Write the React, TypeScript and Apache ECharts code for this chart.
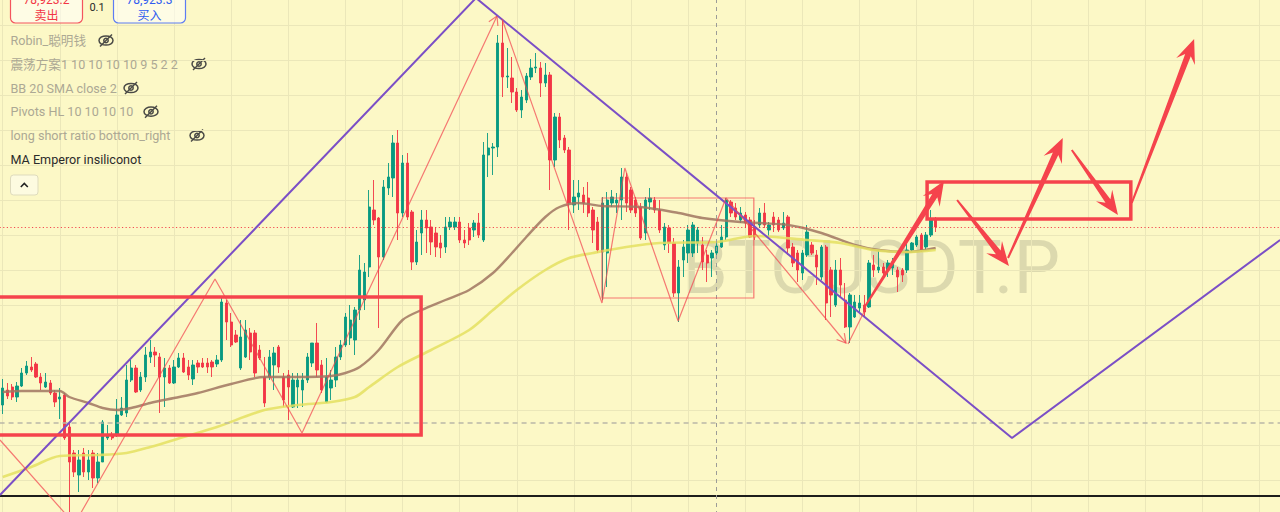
import React, { useEffect, useRef } from "react";
import * as echarts from "echarts";

// ---------- data (prices) ----------
// [open, close, low, high] for each candle, index = bar number
const candleRows: number[][] = [
  [75000, 75340, 74820, 75520], [75300, 75180, 75120, 75440], [75360, 75160, 75100, 75420], [75160, 75380, 75060, 75460],
  [75380, 75640, 75360, 75740], [75640, 75780, 75600, 75880], [75760, 75700, 75660, 75960], [75820, 75560, 75540, 75860],
  [75560, 75440, 75300, 75640], [75360, 75460, 75340, 75640], [75440, 75240, 75200, 75500], [75240, 75060, 74960, 75300],
  [75120, 75160, 74720, 75340], [75200, 74340, 74300, 75240], [74560, 73860, 72840, 74640], [74040, 73660, 73560, 74100],
  [73600, 73900, 73260, 74100], [74040, 73660, 73560, 74140], [73660, 73900, 73500, 74100], [74040, 73540, 73340, 74100],
  [73540, 73860, 73440, 74040], [73860, 74660, 73860, 74700], [74340, 74380, 74300, 74600], [74400, 74340, 74300, 74460],
  [74400, 74800, 74360, 75120], [74800, 74940, 74780, 75160], [74840, 75500, 74760, 75800], [75500, 75740, 75460, 75900],
  [75740, 75260, 75240, 75800], [75300, 75560, 75260, 75660], [75560, 76000, 75460, 76160], [75960, 76060, 75840, 76300],
  [76060, 76000, 75760, 76160], [75960, 75560, 74840, 76040], [75560, 75740, 74960, 75940], [75740, 75440, 75420, 75800],
  [75440, 75760, 75420, 75900], [75760, 75940, 75740, 76040], [75940, 75660, 75640, 76040], [75760, 75600, 75500, 75900],
  [75520, 75800, 75400, 75900], [75840, 75760, 75640, 75900], [75840, 75760, 75740, 75940], [75840, 75760, 75640, 75940],
  [75860, 75760, 75560, 75900], [75820, 75900, 75760, 76000], [75900, 77060, 75860, 77140], [77040, 76660, 76300, 77100],
  [76660, 76200, 76160, 76840], [76400, 76260, 76240, 76500], [75740, 76360, 75700, 76700], [75960, 76500, 75940, 76700],
  [76440, 76060, 75900, 76540], [76440, 75640, 75560, 76500], [76100, 75940, 75900, 76200], [75560, 75040, 74960, 75960],
  [75560, 75960, 75500, 76100], [75800, 76040, 75300, 76160], [76160, 75760, 75640, 76200], [75560, 75100, 74960, 75640],
  [75600, 75360, 74700, 75700], [74960, 75500, 74940, 75640], [75360, 75500, 74940, 75640], [75300, 75500, 74960, 75640],
  [75500, 75960, 75440, 76040], [75840, 76240, 75760, 76240], [76240, 75700, 75560, 76640], [75800, 75300, 75240, 75900],
  [75060, 75560, 75040, 75940], [75340, 75500, 75100, 75700], [75500, 75960, 75360, 76160], [75960, 76200, 75900, 76300],
  [76200, 76760, 76160, 76840], [76340, 76700, 76200, 77000], [76300, 76900, 76000, 76960], [76900, 77700, 76700, 78000],
  [77100, 77660, 76900, 77840], [77760, 78960, 77560, 79300], [78900, 78700, 78600, 79500], [78740, 77960, 76540, 78760],
  [77960, 79360, 77900, 79500], [79340, 79560, 79200, 79840], [79540, 80240, 79160, 80400], [80240, 78840, 78300, 80500],
  [78840, 79840, 78760, 80000], [79840, 78760, 78700, 80040], [78860, 77860, 77700, 78900], [77860, 78260, 77800, 78500],
  [78440, 78700, 78000, 78900], [78700, 78540, 78040, 78900], [78560, 78260, 78000, 78700], [78440, 78160, 77960, 78560],
  [78240, 78140, 77940, 78400], [78160, 78560, 78040, 78760], [78560, 78660, 78500, 78760], [78560, 78660, 78500, 78760],
  [78660, 78300, 78240, 78760], [78300, 78240, 78140, 78500], [78540, 78300, 78200, 78640], [78500, 78640, 78360, 78700],
  [78640, 78400, 78340, 78840], [78300, 80000, 78260, 80260], [80000, 80140, 79560, 80440], [80140, 80160, 79600, 80240],
  [80160, 82240, 79960, 82400], [82240, 81560, 81160, 82700], [81560, 81580, 81340, 82140], [81540, 81260, 81040, 81960],
  [81260, 80900, 80860, 81340], [80900, 81160, 80740, 81300], [81100, 81580, 81040, 81640], [81560, 81740, 81500, 81920],
  [81740, 81760, 81640, 82040], [81740, 81440, 81160, 81860], [81440, 81600, 81360, 81840], [81600, 79900, 79300, 81660],
  [79900, 80760, 79760, 80840], [80760, 80300, 80140, 80840], [80340, 80100, 80040, 80400], [80100, 79040, 78500, 80160],
  [79000, 79160, 78840, 79500], [79160, 79240, 78900, 79500], [79200, 79040, 78840, 79360], [79140, 78840, 78760, 79460],
  [78900, 78500, 78240, 78960], [78660, 78100, 78040, 78760], [78060, 79040, 77100, 79160], [78040, 79100, 77360, 79260],
  [79040, 79160, 78960, 79300], [79040, 79100, 78840, 79240], [79100, 79560, 78700, 79740], [79560, 79040, 78860, 79640],
  [79300, 78900, 78840, 79360], [79100, 78840, 78760, 79160], [78960, 78340, 78300, 79040], [78440, 79100, 78300, 79160],
  [79060, 79140, 78900, 79340], [79100, 78900, 78840, 79160], [78900, 78500, 78440, 79100], [78200, 78560, 78100, 78640],
  [78540, 78240, 78040, 78600], [78240, 77240, 77160, 78340], [77240, 77760, 76660, 77900], [77900, 78160, 77560, 78300],
  [78040, 78500, 77840, 78600], [78040, 78600, 77960, 78660], [78240, 78500, 78040, 78560], [78200, 77860, 77700, 78360],
  [78000, 77840, 77460, 78100], [77940, 78040, 77560, 78100], [78040, 78180, 77960, 78260], [78160, 78360, 78140, 78600],
  [78360, 79100, 78300, 79140], [79060, 78840, 78760, 79100], [78940, 78760, 78700, 79040], [78700, 78840, 78640, 78960],
  [78800, 78640, 78540, 78860], [78700, 78360, 78340, 78760], [78560, 78360, 78300, 78700], [78600, 78840, 78540, 78940],
  [78840, 78600, 78540, 79040], [78500, 78600, 78360, 78660], [78760, 78600, 78460, 78860], [78700, 78500, 78460, 78760],
  [78540, 78640, 78500, 78860], [78760, 78140, 78000, 78800], [78160, 77840, 77760, 78240], [78040, 77700, 77460, 78100],
  [77640, 78040, 77500, 78100], [78000, 78460, 77960, 78600], [78200, 78040, 78000, 78260], [78000, 77760, 77400, 78100],
  [77560, 78160, 77500, 78200], [78160, 77040, 76700, 78200], [77700, 77200, 76760, 77760], [77000, 77700, 76960, 77900],
  [77700, 77400, 77160, 77940], [77100, 76560, 76540, 77440], [76560, 77200, 76240, 77240], [76760, 77060, 76740, 77200],
  [76940, 77040, 76860, 77200], [77000, 76860, 76760, 77200], [76960, 77840, 76940, 77900], [77800, 77700, 77560, 78000],
  [77700, 77760, 77640, 78100], [77760, 77640, 77560, 77840], [77700, 77840, 77560, 77900], [77740, 77860, 77600, 77940],
  [77700, 77560, 77260, 77760], [77700, 77600, 77460, 77740], [77700, 78100, 77640, 78240], [78100, 78240, 78060, 78260],
  [78200, 78360, 78160, 78400], [78400, 78100, 78060, 78440], [78160, 78400, 78100, 78460], [78400, 78700, 78360, 78900],
  [78700, 78560, 78460, 78760],
];

// moving averages: [bar index, price]
const maBrown: number[][] = [
  [0, 75260], [4, 75280], [12, 75280], [14, 75160], [18, 75040], [21, 74940], [24, 74900], [27, 74940],
  [31, 75040], [36, 75140], [41, 75240], [48, 75420], [55, 75560], [62, 75560], [69, 75580], [72, 75640],
  [75, 75760], [79, 76100], [84, 76700], [88, 76900], [93, 77100], [98, 77300], [103, 77640], [107, 78040],
  [110, 78360], [114, 78760], [117, 78960], [121, 79040], [126, 78980], [134, 78960], [142, 78840], [147, 78740],
  [155, 78660], [165, 78600], [172, 78440], [179, 78200], [184, 78100], [190, 78060], [196, 78140],
];
const maYellow: number[][] = [
  [0, 73560], [6, 73760], [12, 73980], [20, 74000], [26, 74040], [31, 74160], [38, 74360], [45, 74560],
  [55, 74900], [62, 75000], [69, 75060], [74, 75160], [77, 75360], [83, 75760], [90, 76100], [98, 76500],
  [103, 76900], [108, 77300], [114, 77700], [119, 77940], [124, 78040], [131, 78160], [138, 78240], [150, 78260],
  [158, 78380], [169, 78300], [176, 78240], [183, 78100], [190, 78060], [196, 78100],
];

// hand drawings, in [bar index, price]
const purpleTrend: number[][] = [[-0.57, 73200], [99.43, 83140], [212.04, 74340], [268.36, 78300]];
const zigzagA: number[][] = [[-0.57, 74300], [15.08, 72620], [44.6, 77520], [62.88, 74440], [103.85, 82780]];
const zigzagB: number[][] = [[104.9, 82720], [125.9, 77040], [130.7, 79740], [141.9, 76680], [151.95, 79140], [177.16, 76240]];
const zigzagC: number[][] = [[177.58, 76220], [181.36, 76940]];
const zigzagTips: number[][] = [[62.88, 74440, 103.85, 82780], [151.95, 79140, 177.16, 76240]];
const boxesThick: number[][] = [[-3, 77160, 87.9, 74400], [194.2, 79460, 237.0, 78720]];
const boxesThin: number[][] = [[125.9, 79140, 157.8, 77140]];
const arrowsThick: number[][] = [
  [180.95, 76940, 197.75, 79480],
  [200.5, 79100, 211.4, 77780],
  [211.2, 77940, 222.7, 80340],
  [224.6, 80100, 234.3, 78800],
  [237.2, 79040, 250.3, 82320],
];
const lastPrice = 78560;
const dashedPrice = 74640;
const supportPrice = 73180;
const cursorBar = 150;

const bidText = "78,923.2";
const askText = "78,923.3";
const legendItems = [
  "Robin_聪明钱",
  "震荡方案1 10 10 10 10 9 5 2 2",
  "BB 20 SMA close 2",
  "Pivots HL 10 10 10 10",
  "long short ratio bottom_right",
];
const activeLegend = "MA Emperor insiliconot";
const symbolName = "BTCUSDT.P";

// ---------- styles ----------
const UP = "#089981";
const DOWN = "#f23645";
const DRAW_RED = "#f5434c";
const THIN_RED = "rgba(242,70,80,0.72)";
const PURPLE = "#7b4fc6";
const BG = "#fcf8c6";
const FONT = '12.6px Roboto, "Noto Sans CJK SC", sans-serif';

function thickArrow(_p: any, api: any) {
  const a = api.coord([api.value(0), api.value(1)]);
  const b = api.coord([api.value(2), api.value(3)]);
  const dx = b[0] - a[0], dy = b[1] - a[1];
  const len = Math.hypot(dx, dy) || 1;
  const ux = dx / len, uy = dy / len, nx = -uy, ny = ux;
  const head = 24, hw = 10, w0 = 1, w1 = 3;
  const jx = b[0] - ux * head * 0.72, jy = b[1] - uy * head * 0.72;
  const cx = b[0] - ux * head, cy = b[1] - uy * head;
  return {
    type: "polygon",
    shape: {
      points: [
        [a[0] + nx * w0, a[1] + ny * w0],
        [jx + nx * w1, jy + ny * w1],
        [cx + nx * hw, cy + ny * hw],
        [b[0], b[1]],
        [cx - nx * hw, cy - ny * hw],
        [jx - nx * w1, jy - ny * w1],
        [a[0] - nx * w0, a[1] - ny * w0],
      ],
    },
    style: { fill: DRAW_RED },
  };
}

function chevron(_p: any, api: any) {
  const a = api.coord([api.value(0), api.value(1)]);
  const b = api.coord([api.value(2), api.value(3)]);
  const ang = Math.atan2(b[1] - a[1], b[0] - a[0]);
  const L = 10, s = Math.PI / 6;
  return {
    type: "polyline",
    shape: {
      points: [
        [b[0] - L * Math.cos(ang - s), b[1] - L * Math.sin(ang - s)],
        [b[0], b[1]],
        [b[0] - L * Math.cos(ang + s), b[1] - L * Math.sin(ang + s)],
      ],
    },
    style: { fill: "none", stroke: THIN_RED, lineWidth: 1.2 },
  };
}

function boxRenderer(stroke: string, lw: number) {
  return (_p: any, api: any) => {
    const a = api.coord([api.value(0), api.value(1)]);
    const b = api.coord([api.value(2), api.value(3)]);
    return {
      type: "rect",
      shape: {
        x: Math.min(a[0], b[0]),
        y: Math.min(a[1], b[1]),
        width: Math.abs(b[0] - a[0]),
        height: Math.abs(b[1] - a[1]),
      },
      style: { fill: "none", stroke, lineWidth: lw },
    };
  };
}

function eyeOff(cx: number, cy: number) {
  const st = { fill: "none", stroke: "#4a4a46", lineWidth: 1.5 };
  return {
    type: "group",
    x: cx,
    y: cy,
    z: 100,
    children: [
      { type: "ellipse", shape: { cx: 0, cy: 0, rx: 7, ry: 4.6 }, style: st },
      { type: "circle", shape: { cx: 0, cy: 0, r: 2.2 }, style: st },
      { type: "line", shape: { x1: -6, y1: 6, x2: 6, y2: -6 }, style: st },
    ],
  };
}

function txt(text: string, x: number, y: number, fill: string, font: string, align = "left") {
  return {
    type: "text",
    x,
    y,
    z: 100,
    silent: true,
    style: { text, fill, font, align, textAlign: align, verticalAlign: "middle", textVerticalAlign: "middle" },
  };
}

const legendY = [40.5, 64, 88, 111.7, 135.5];
const eyeX = [106, 199, 131, 151, 197];

function buildOption(): any {
  const candleData = candleRows.map((r, i) => [i, r[0], r[1], r[2], r[3]]);
  const graphic: any[] = [
    {
      type: "text",
      x: 871,
      y: 267,
      z: -1,
      silent: true,
      style: {
        text: symbolName,
        fill: "rgba(95,95,80,0.2)",
        font: "74px Roboto, sans-serif",
        align: "center",
        textAlign: "center",
        verticalAlign: "middle",
        textVerticalAlign: "middle",
      },
    },
    {
      type: "rect",
      z: 100,
      shape: { x: 10.5, y: -20, width: 72, height: 43, r: 5 },
      style: { fill: "rgba(255,255,255,0.55)", stroke: "#f4545e", lineWidth: 1.2 },
    },
    txt(bidText, 46.5, 0, "#f23645", '12px Roboto, sans-serif', "center"),
    txt("卖出", 46.5, 14, "#f23645", '12px "Noto Sans CJK SC", sans-serif', "center"),
    txt("0.1", 97, 7, "#2a2a2a", '11px Roboto, sans-serif', "center"),
    {
      type: "rect",
      z: 100,
      shape: { x: 113.5, y: -20, width: 72, height: 43, r: 5 },
      style: { fill: "rgba(255,255,255,0.55)", stroke: "#5d7cf4", lineWidth: 1.2 },
    },
    txt(askText, 149.5, 0, "#2f5bf0", '12px Roboto, sans-serif', "center"),
    txt("买入", 149.5, 14, "#2f5bf0", '12px "Noto Sans CJK SC", sans-serif', "center"),
  ];
  legendItems.forEach((t, k) => {
    graphic.push(txt(t, 10.5, legendY[k], "#aca894", FONT));
    graphic.push(eyeOff(eyeX[k], legendY[k]));
  });
  graphic.push(txt(activeLegend, 10.5, 159.3, "#2b2b2b", FONT));
  graphic.push({
    type: "rect",
    z: 100,
    shape: { x: 10.5, y: 175, width: 27.5, height: 20, r: 3 },
    style: { fill: "rgba(255,255,255,0.45)", stroke: "#dedbbd", lineWidth: 1 },
  });
  graphic.push({
    type: "polyline",
    z: 101,
    shape: { points: [[20.8, 187], [24.3, 183.5], [27.8, 187]] },
    style: { fill: "none", stroke: "#222", lineWidth: 1.6 },
  });

  return {
    animation: false,
    backgroundColor: BG,
    grid: { left: -54.42, right: -36.46, top: -10, bottom: -3, containLabel: false, outerBoundsMode: "none" },
    xAxis: {
      type: "value",
      min: -12,
      max: 276,
      interval: 12,
      axisLine: { show: false },
      axisTick: { show: false },
      axisLabel: { show: false },
      splitLine: { show: true, lineStyle: { color: "#ebe7b9", width: 1 } },
    },
    yAxis: {
      type: "value",
      min: 72800,
      max: 83300,
      interval: 700,
      axisLine: { show: false },
      axisTick: { show: false },
      axisLabel: { show: false },
      splitLine: { show: true, lineStyle: { color: "#ebe7b9", width: 1 } },
    },
    graphic,
    series: [
      {
        type: "candlestick",
        data: candleData,
        encode: { x: 0, y: [1, 2, 3, 4] },
        barWidth: 2.8,
        itemStyle: { color: UP, color0: DOWN, borderColor: UP, borderColor0: DOWN, borderWidth: 0.9 },
        silent: true,
        z: 3,
        markLine: {
          silent: true,
          symbol: ["none", "none"],
          label: { show: false },
          animation: false,
          data: [
            { yAxis: lastPrice, lineStyle: { color: "#f23645", width: 1, type: [1.2, 2.4], opacity: 0.9 } },
            { yAxis: dashedPrice, lineStyle: { color: "#b9b7a8", width: 1.6, type: [5, 4] } },
            { yAxis: supportPrice, lineStyle: { color: "#1d1d1b", width: 2.2, type: "solid" } },
            { xAxis: cursorBar, lineStyle: { color: "#9c9c98", width: 1, type: [4, 4] } },
          ],
        },
      },
      {
        type: "line",
        data: maBrown,
        smooth: 0.3,
        showSymbol: false,
        silent: true,
        z: 4,
        lineStyle: { color: "rgba(160,118,96,0.85)", width: 2.4 },
      },
      {
        type: "line",
        data: maYellow,
        smooth: 0.3,
        showSymbol: false,
        silent: true,
        z: 4,
        lineStyle: { color: "rgba(228,224,96,0.85)", width: 2.6 },
      },
      {
        type: "line",
        data: purpleTrend,
        showSymbol: false,
        silent: true,
        z: 6,
        lineStyle: { color: PURPLE, width: 2 },
      },
      { type: "line", data: zigzagA, showSymbol: false, silent: true, z: 6, lineStyle: { color: THIN_RED, width: 1.2 } },
      { type: "line", data: zigzagB, showSymbol: false, silent: true, z: 6, lineStyle: { color: THIN_RED, width: 1.2 } },
      { type: "line", data: zigzagC, showSymbol: false, silent: true, z: 6, lineStyle: { color: THIN_RED, width: 1.2 } },
      {
        type: "custom",
        data: zigzagTips,
        encode: { x: [0, 2], y: [1, 3] },
        renderItem: chevron,
        silent: true,
        z: 6,
      },
      {
        type: "custom",
        data: boxesThin,
        encode: { x: [0, 2], y: [1, 3] },
        renderItem: boxRenderer(THIN_RED, 1.2),
        silent: true,
        z: 6,
      },
      {
        type: "custom",
        data: boxesThick,
        encode: { x: [0, 2], y: [1, 3] },
        renderItem: boxRenderer(DRAW_RED, 3.5),
        silent: true,
        z: 7,
      },
      {
        type: "custom",
        data: arrowsThick,
        encode: { x: [0, 2], y: [1, 3] },
        renderItem: thickArrow,
        silent: true,
        z: 8,
      },
    ],
  };
}

export default function App() {
  const ref = useRef<HTMLDivElement>(null);
  useEffect(() => {
    if (!ref.current) return;
    const chart = echarts.init(ref.current, null, { renderer: "svg" });
    chart.setOption(buildOption());
    return () => chart.dispose();
  }, []);
  return (
    <div
      ref={ref}
      style={{ position: "fixed", left: 0, top: 0, width: 1280, height: 512, overflow: "hidden" }}
    />
  );
}
